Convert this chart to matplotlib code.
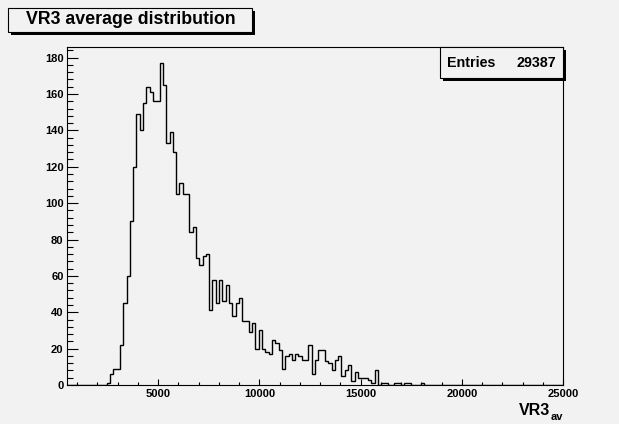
import numpy as np
import matplotlib
matplotlib.use("Agg")
import matplotlib.pyplot as plt
from matplotlib.patches import Rectangle
from matplotlib.ticker import MultipleLocator

# histogram definition: 150 bins from 500 to 25000
x_min, x_max, n_bins = 500.0, 25000.0, 150

# bin contents (bins 12..107), the rest are empty
first_bin = 12
counts = [
    1, 6, 9, 9, 22, 45, 60, 90, 120, 149,
    140, 155, 164, 161, 156, 156, 177, 165, 133, 139,
    128, 105, 111, 105, 105, 84, 87, 70, 66, 71,
    72, 41, 58, 45, 58, 46, 55, 45, 38, 45,
    48, 35, 35, 29, 34, 20, 30, 20, 18, 17,
    25, 23, 19, 9, 16, 17, 14, 17, 16, 14,
    14, 22, 6, 14, 19, 19, 13, 12, 8, 14,
    16, 5, 8, 11, 2, 7, 4, 4, 4, 3,
    1, 8, 0, 1, 1, 0, 0, 1, 1, 0,
    1, 1, 0, 0, 0, 1,
]

title = "VR3 average distribution"
entries_label = "Entries"
entries_value = "29387"
x_ticks = [5000, 10000, 15000, 20000, 25000]
y_ticks = list(range(0, 181, 20))

W, H = 619, 424
BG = "#f2f2f2"
FONT = "Liberation Sans"


def fx(px):
    return px / W


def fy(py):
    return 1.0 - py / H


values = np.zeros(n_bins)
values[first_bin:first_bin + len(counts)] = counts
edges = np.linspace(x_min, x_max, n_bins + 1)

fig = plt.figure(figsize=(W / 100, H / 100), dpi=100, facecolor=BG)
ax = fig.add_axes([fx(67), fy(385), fx(563) - fx(67), fy(47) - fy(385)])
ax.set_facecolor(BG)

ax.stairs(values, edges, color="black", lw=1.0, baseline=0)

ax.set_xlim(x_min, x_max)
ax.set_ylim(0, 177 * 1.05)
ax.set_xticks(x_ticks)
ax.set_yticks(y_ticks)
ax.xaxis.set_minor_locator(MultipleLocator(1000))
ax.yaxis.set_minor_locator(MultipleLocator(4))
ax.tick_params(axis="both", which="both", direction="in", top=False, right=False,
               width=0.8, color="black")
ax.tick_params(axis="y", which="major", length=7.7, pad=2.5)
ax.tick_params(axis="y", which="minor", length=4.3)
ax.tick_params(axis="x", which="major", length=4.1, pad=3)
ax.tick_params(axis="x", which="minor", length=2.0)
for lab in ax.get_xticklabels() + ax.get_yticklabels():
    lab.set_fontfamily(FONT)
    lab.set_fontweight("bold")
    lab.set_fontsize(8)
for sp in ax.spines.values():
    sp.set_linewidth(0.8)

# axis title VR3_av at lower right
fig.text(fx(550), fy(415), "VR3", fontfamily=FONT, fontweight="bold",
         fontsize=11.5, ha="right", va="baseline")
fig.text(fx(551), fy(420), "av", fontfamily=FONT, fontweight="bold",
         fontsize=8, ha="left", va="baseline")


def pave(x0, y0, x1, y1, shadow=2.5):
    # ROOT-like pave with a dark drop shadow
    fig.add_artist(Rectangle((fx(x0 + shadow), fy(y1 + shadow)),
                             fx(x1 - x0), fy(y0) - fy(y1),
                             transform=fig.transFigure, facecolor="black",
                             edgecolor="none", zorder=5))
    fig.add_artist(Rectangle((fx(x0), fy(y1)), fx(x1 - x0), fy(y0) - fy(y1),
                             transform=fig.transFigure, facecolor=BG,
                             edgecolor="black", lw=0.8, zorder=6))


pave(8, 8, 252, 32)
fig.text(fx(131), fy(20), title, fontfamily=FONT, fontweight="bold",
         fontsize=12.8, ha="center", va="center", zorder=7)

pave(440, 47, 563, 78)
fig.text(fx(447), fy(63), entries_label, fontfamily=FONT, fontweight="bold",
         fontsize=10.3, ha="left", va="center", zorder=7)
fig.text(fx(556), fy(63), entries_value, fontfamily=FONT, fontweight="bold",
         fontsize=10.3, ha="right", va="center", zorder=7)

fig.savefig("out.png", dpi=100, facecolor=BG)
